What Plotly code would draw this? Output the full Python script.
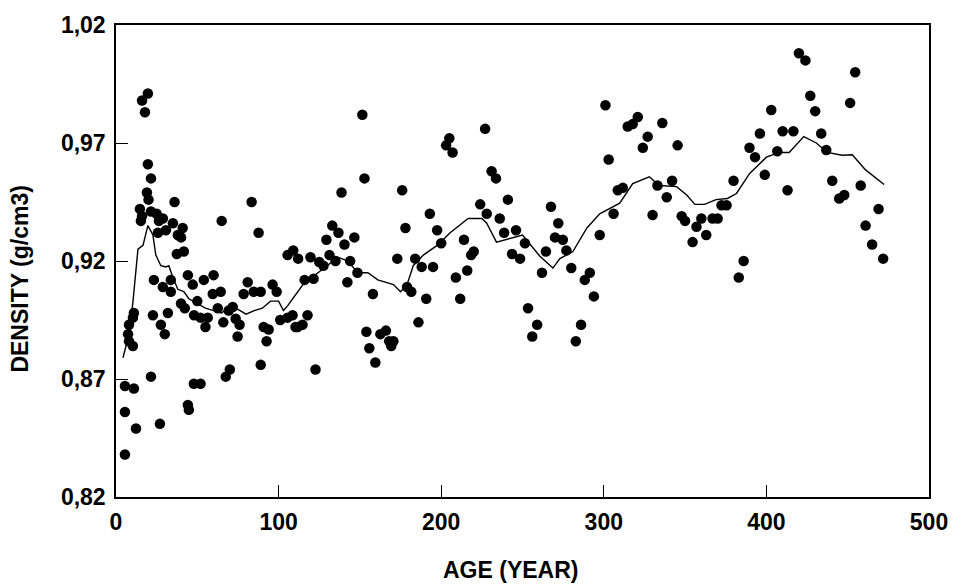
import plotly.graph_objects as go

# Scatter points (age in years, density in g/cm3)
dot_age = [
    5.5, 5.5, 5.5, 11, 12.3, 27, 21.5,
    11, 10.4, 8, 7.4, 8, 10.4,
    22.7, 27.6, 30, 31.9,
    44.2, 44.8, 47.9, 52, 70, 67.5, 89, 122.7,
    19.6, 16, 17.8, 19.6, 21.5, 19, 20, 36, 14.7, 16, 21.5, 25, 28.8, 26.4, 15.3, 25.8, 30.7, 35, 41, 38, 40, 37.4, 41.7, 65, 83.4, 87.7,
    23.3, 28.8, 33.7, 33.7, 44.2, 47.2, 54, 60, 59.5, 64.4, 81, 78.5, 84.7, 89, 96.3, 98.8, 105.5, 109, 112,
    40, 42.3, 50, 48, 52, 56.4, 55, 66, 62.6, 69.3, 71.8, 73.6, 76, 74.8, 90.8, 93.9, 92.6, 101, 105.5, 108.6, 111.7,
    151.5, 301, 227, 205, 203, 207, 152.8, 303, 231, 233.7, 138.7, 176, 308.6, 241, 224, 228, 236, 267.5, 306, 193,
    133, 136.8, 129.4, 140.5, 146.6, 178, 197.5, 200, 272, 246, 238.7, 251.5, 270, 274.8, 277, 297.5, 214, 220, 218.4,
    264.4, 243.6, 248.5, 119.6, 125, 127.6, 131.3, 135, 144, 173, 184, 188, 195, 209, 216, 280, 262, 291.4, 288.3,
    116, 121.5, 148.5, 142.3, 179, 181.6, 158, 190.8, 211.7, 293.9, 253.4, 259, 256, 286, 282.8, 114.7, 110.4, 117.8,
    186, 154, 155.8, 162.6, 166, 168, 170.6, 169.3, 159.5,
    420, 424, 454.6, 427, 451.5, 320.9, 317.8, 314.7, 336, 403, 430, 327, 324, 345.4, 396, 410, 416.6, 433.7, 389.6,
    393, 406.7, 436.8, 311.7, 333, 342, 338.7, 379.8, 399, 413, 440.5, 458, 444.8, 447.9, 330, 347.9, 350, 360, 357,
    366.9, 370, 354.6, 363, 372.4, 375.5, 469, 461, 465, 471.8, 386, 383,
]
dot_density = [
    0.838, 0.856, 0.867, 0.866, 0.849, 0.851, 0.871,
    0.898, 0.896, 0.893, 0.889, 0.886, 0.884,
    0.897, 0.893, 0.889, 0.898,
    0.859, 0.857, 0.868, 0.868, 0.874, 0.871, 0.876, 0.874,
    0.991, 0.988, 0.983, 0.961, 0.955, 0.949, 0.946, 0.945, 0.942, 0.939, 0.941, 0.940, 0.938, 0.937, 0.937, 0.932, 0.933, 0.936, 0.934, 0.931, 0.930, 0.923, 0.924, 0.937, 0.945, 0.932,
    0.912, 0.909, 0.907, 0.912, 0.914, 0.910, 0.912, 0.914, 0.906, 0.907, 0.911, 0.906, 0.907, 0.907, 0.910, 0.907, 0.9225, 0.9245, 0.921,
    0.902, 0.900, 0.903, 0.897, 0.896, 0.896, 0.892, 0.894, 0.900, 0.899, 0.9005, 0.8955, 0.893, 0.888, 0.892, 0.891, 0.886, 0.895, 0.896, 0.897, 0.892,
    0.982, 0.986, 0.976, 0.972, 0.969, 0.966, 0.955, 0.963, 0.958, 0.955, 0.949, 0.950, 0.950, 0.946, 0.944, 0.940, 0.938, 0.943, 0.940, 0.940,
    0.935, 0.932, 0.929, 0.927, 0.930, 0.934, 0.933, 0.9275, 0.936, 0.933, 0.932, 0.9275, 0.930, 0.929, 0.9245, 0.931, 0.929, 0.924, 0.9225,
    0.924, 0.923, 0.921, 0.9216, 0.9196, 0.918, 0.9225, 0.920, 0.920, 0.921, 0.921, 0.9175, 0.9175, 0.913, 0.916, 0.917, 0.915, 0.915, 0.912,
    0.912, 0.9125, 0.915, 0.911, 0.909, 0.907, 0.906, 0.904, 0.904, 0.905, 0.900, 0.893, 0.888, 0.893, 0.886, 0.893, 0.892, 0.897,
    0.894, 0.890, 0.883, 0.889, 0.8905, 0.886, 0.886, 0.884, 0.877,
    1.008, 1.005, 1.000, 0.990, 0.987, 0.981, 0.978, 0.977, 0.9785, 0.984, 0.9835, 0.9727, 0.968, 0.969, 0.974, 0.975, 0.975, 0.974, 0.968,
    0.964, 0.9665, 0.967, 0.951, 0.952, 0.954, 0.947, 0.954, 0.9565, 0.950, 0.954, 0.952, 0.9465, 0.948, 0.9395, 0.939, 0.937, 0.938, 0.9345,
    0.938, 0.938, 0.928, 0.931, 0.9436, 0.9436, 0.942, 0.935, 0.927, 0.921, 0.920, 0.913,
]

# Smoothed (running mean) curve
line_age = [4.3, 8, 10.4, 13.5, 16.6, 19.6, 22.7, 24.5, 27.6, 30.7, 32.5, 35, 38, 41.7, 44.8,
            50, 55, 60, 65, 70, 75, 80, 85, 90, 95, 100, 103, 105.5, 115, 126, 136.5, 142.6,
            148.7, 154.9, 161, 170.6, 175, 179, 182.8, 189, 197.5, 205.5, 216.6, 225, 228,
            234, 244, 250, 260.7, 268.7, 273, 281, 289.6, 297.5, 309.8, 317.8, 328, 334,
            344.8, 351, 356, 362, 369, 376, 381.6, 389.6, 400, 408, 414, 423, 430.7, 437.4,
            446.6, 452.8, 461, 472.4]
line_density = [0.879, 0.889, 0.9026, 0.925, 0.9266, 0.935, 0.931, 0.9225, 0.918, 0.9175, 0.918, 0.913, 0.908, 0.907, 0.904,
                0.902, 0.900, 0.899, 0.898, 0.901, 0.8995, 0.8975, 0.899, 0.900, 0.903, 0.903, 0.899, 0.901, 0.910, 0.916, 0.9216, 0.920,
                0.915, 0.915, 0.912, 0.910, 0.907, 0.910, 0.918, 0.9225, 0.9266, 0.932, 0.938, 0.938, 0.936,
                0.928, 0.930, 0.931, 0.922, 0.917, 0.921, 0.924, 0.934, 0.940, 0.9445, 0.9528, 0.9557, 0.952,
                0.9515, 0.948, 0.944, 0.944, 0.946, 0.9465, 0.9486, 0.957, 0.964, 0.966, 0.966, 0.9727, 0.970, 0.966,
                0.9648, 0.965, 0.9586, 0.9524]

x_ticks = [0, 100, 200, 300, 400, 500]
y_ticks = [0.82, 0.87, 0.92, 0.97, 1.02]
y_tick_text = ["0,82", "0,87", "0,92", "0,97", "1,02"]

font_family = "Liberation Sans, Arial, sans-serif"

fig = go.Figure()
fig.add_trace(go.Scatter(x=dot_age, y=dot_density, mode="markers",
                         marker=dict(size=10.5, color="black"), showlegend=False))
fig.add_trace(go.Scatter(x=line_age, y=line_density, mode="lines",
                         line=dict(color="black", width=1.4), showlegend=False))

axis_common = dict(showgrid=False, zeroline=False, showline=True, linecolor="black",
                   linewidth=1.5, mirror=True, ticks="inside", ticklen=12,
                   tickcolor="black", tickwidth=1.3,
                   tickfont=dict(family=font_family, size=23, color="black", weight="bold"))

plot_l, plot_r, plot_t, plot_b = 116, 33, 15, 89
plot_w = 962 - plot_l - plot_r
plot_h = 586 - plot_t - plot_b

fig.update_layout(
    width=962, height=586,
    margin=dict(l=plot_l, r=plot_r, t=plot_t, b=plot_b),
    paper_bgcolor="white", plot_bgcolor="white",
    xaxis=dict(range=[0, 500], tickvals=x_ticks, ticklabelstandoff=4, **axis_common),
    yaxis=dict(range=[0.82, 1.02], tickvals=y_ticks, ticktext=y_tick_text,
               ticklabelstandoff=4, **axis_common),
    annotations=[
        dict(text="<b>AGE (YEAR)</b>", xref="paper", yref="paper",
             x=(510 - plot_l) / plot_w, y=(586 - plot_b - 572) / plot_h,
             showarrow=False, font=dict(family=font_family, size=23, color="black"),
             xanchor="center", yanchor="middle"),
        dict(text="<b>DENSITY (g/cm3)</b>", xref="paper", yref="paper",
             x=(20 - plot_l) / plot_w, y=(586 - plot_b - 275) / plot_h,
             showarrow=False, textangle=-90,
             font=dict(family=font_family, size=23, color="black"),
             xanchor="center", yanchor="middle"),
    ],
)

fig.write_html("out.html")
